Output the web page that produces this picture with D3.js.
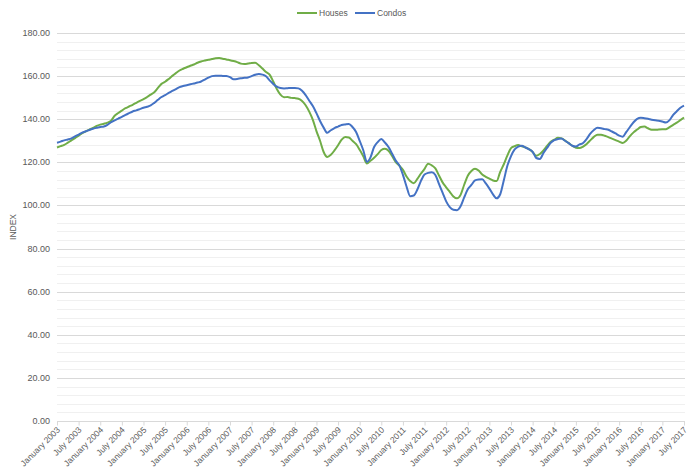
<!DOCTYPE html>
<html lang="en">
<head>
<meta charset="utf-8">
<title>Houses vs Condos index</title>
<script src="https://d3js.org/d3.v7.min.js"></script>
<style>
  body { margin: 0; background: #fff; }
  svg { font-family: "Liberation Sans", Arial, sans-serif; }
</style>
</head>
<body>
<svg width="690" height="474"></svg>
<script>
// monthly index values, January 2003 .. July 2017
const houses = [
  126.9,127.5,128.1,129.1,130.2,131.2,132.4,133.5,134.4,135.2,136.0,136.9,
  137.5,137.9,138.4,139.3,141.6,142.9,144.0,145.1,145.9,146.7,147.6,148.5,
  149.3,150.3,151.4,152.5,154.5,156.4,157.4,158.7,160.1,161.4,162.6,163.4,
  164.1,164.8,165.4,166.2,166.8,167.2,167.6,167.9,168.3,168.4,168.1,167.7,
  167.4,167.0,166.5,165.8,165.6,165.8,166.1,166.2,165.0,163.5,161.9,160.7,
  157.5,154.0,151.4,150.2,150.3,149.9,149.8,149.5,148.5,146.5,143.5,139.7,
  134.5,130.0,124.8,122.5,123.5,125.5,127.9,130.5,131.8,131.5,130.0,128.4,
  125.8,122.8,119.5,120.7,122.1,123.8,125.7,126.3,125.4,122.9,120.1,118.5,
  116.5,113.4,111.3,110.3,112.3,114.8,117.0,119.4,118.6,117.2,113.9,110.7,
  108.4,106.3,104.2,103.3,104.9,109.6,113.8,116.0,117.0,116.2,114.4,113.3,
  112.4,111.6,111.3,115.6,119.1,123.2,126.6,127.5,128.0,127.4,126.9,126.1,
  124.8,123.0,123.9,125.5,127.6,129.5,130.5,131.4,131.1,130.1,128.9,127.7,
  126.8,126.6,127.3,128.5,130.2,131.8,132.8,132.8,132.3,131.7,131.0,130.3,
  129.6,129.0,130.1,132.2,133.9,135.2,136.4,136.6,135.8,135.1,135.1,135.2,
  135.3,135.4,136.3,137.4,138.4,139.6,140.8
];
const condos = [
  129.1,129.6,130.2,130.6,131.1,132.0,132.9,133.8,134.4,135.0,135.6,136.0,
  136.4,136.6,137.4,138.6,139.5,140.3,141.1,142.0,142.8,143.6,144.1,144.7,
  145.3,145.8,146.4,147.6,149.0,150.3,151.2,152.2,153.1,154.0,154.9,155.4,
  155.8,156.2,156.6,157.0,157.5,158.4,159.3,160.0,160.2,160.2,160.1,160.0,
  159.5,158.6,158.7,159.0,159.2,159.4,160.0,160.6,161.0,160.7,159.9,158.0,
  156.4,155.1,154.5,154.3,154.4,154.5,154.5,154.3,153.2,151.2,148.6,146.1,
  142.8,139.2,136.1,133.7,134.9,135.9,136.6,137.3,137.6,137.8,136.4,134.1,
  130.0,125.6,120.2,122.3,127.1,129.4,130.8,129.2,127.1,124.0,120.8,118.6,
  114.2,108.8,104.3,104.6,107.4,111.4,114.4,115.1,115.4,114.1,110.0,105.9,
  101.9,99.2,98.0,97.8,99.6,103.7,107.5,109.5,111.6,112.0,112.1,110.2,
  107.8,105.1,103.3,105.2,111.7,118.5,122.9,126.0,127.3,127.7,126.9,126.0,
  124.9,122.0,121.6,124.3,126.7,129.0,130.3,130.8,131.0,130.0,128.9,127.7,
  127.3,128.3,129.0,130.9,133.3,135.0,136.0,135.8,135.4,135.1,134.3,133.4,
  132.4,131.9,134.1,136.4,138.6,140.2,140.7,140.5,140.2,139.8,139.5,139.3,
  138.9,138.5,139.6,142.0,143.7,145.3,146.3
];
const tickLabels = [
  "January 2003","July 2003","January 2004","July 2004","January 2005","July 2005",
  "January 2006","July 2006","January 2007","July 2007","January 2008","July 2008",
  "January 2009","July 2009","January 2010","July 2010","January 2011","July 2011",
  "January 2012","July 2012","January 2013","July 2013","January 2014","July 2014",
  "January 2015","July 2015","January 2016","July 2016","January 2017","July 2017"
];
const seriesNames = ["Houses", "Condos"];
const colors = ["#70ad47", "#4472c4"];

const svg = d3.select("svg");
const plotL = 57, plotR = 684, plotT = 33, plotB = 421;

const x = d3.scaleLinear().domain([0, houses.length - 1]).range([plotL, plotR]);
const y = d3.scaleLinear().domain([0, 180]).range([plotB, plotT]);

// minor gridlines every 4
svg.append("g").selectAll("line")
  .data(d3.range(4, 180, 4).filter(v => v % 20 !== 0))
  .enter().append("line")
  .attr("x1", plotL).attr("x2", plotR + 1)
  .attr("y1", d => Math.round(y(d)) + 0.5).attr("y2", d => Math.round(y(d)) + 0.5)
  .attr("stroke", "#f0f0f0").attr("stroke-width", 1);

// major gridlines every 20
svg.append("g").selectAll("line")
  .data(d3.range(20, 181, 20))
  .enter().append("line")
  .attr("x1", plotL).attr("x2", plotR + 1)
  .attr("y1", d => Math.round(y(d)) + 0.5).attr("y2", d => Math.round(y(d)) + 0.5)
  .attr("stroke", "#d9d9d9").attr("stroke-width", 1);

// y tick labels
svg.append("g").selectAll("text")
  .data(d3.range(0, 181, 20))
  .enter().append("text")
  .attr("x", 50).attr("y", d => y(d) + 3)
  .attr("text-anchor", "end")
  .attr("font-size", 9).attr("fill", "#595959")
  .text(d => d.toFixed(2));

// y axis title
svg.append("text")
  .attr("transform", `translate(16,${(plotT + plotB) / 2}) rotate(-90)`)
  .attr("text-anchor", "middle")
  .attr("font-size", 8.5).attr("fill", "#595959")
  .text("INDEX");

// x axis
const tickVals = tickLabels.map((d, i) => i * 6);
const xAxis = d3.axisBottom(x)
  .tickValues(tickVals)
  .tickFormat((d, i) => tickLabels[i])
  .tickSize(4)
  .tickSizeOuter(0);

const gx = svg.append("g")
  .attr("transform", `translate(0,${plotB + 0.5})`)
  .call(xAxis);
gx.select(".domain").attr("stroke", "#d9d9d9").attr("d", `M${plotL},0H${plotR + 1}`);
gx.selectAll(".tick line").attr("stroke", "#d9d9d9");
gx.selectAll(".tick text")
  .attr("font-family", "Liberation Sans, Arial, sans-serif")
  .attr("font-size", 8.5).attr("fill", "#595959")
  .attr("text-anchor", "end")
  .attr("y", 0).attr("dy", 0)
  .attr("transform", "translate(3,9) rotate(-45)");

// lines
const line = d3.line()
  .x((d, i) => x(i))
  .y(d => y(d))
  .curve(d3.curveMonotoneX);

[houses, condos].forEach((s, k) => {
  svg.append("path")
    .datum(s)
    .attr("fill", "none")
    .attr("stroke", colors[k])
    .attr("stroke-width", 2)
    .attr("stroke-linejoin", "round")
    .attr("d", line);
});

// legend
const legX = [297, 355];
seriesNames.forEach((n, k) => {
  const g = svg.append("g").attr("transform", `translate(${legX[k]},13)`);
  g.append("line").attr("x1", 0).attr("x2", 20).attr("y1", 0).attr("y2", 0)
    .attr("stroke", colors[k]).attr("stroke-width", 2);
  g.append("text").attr("x", 22).attr("y", 3)
    .attr("font-size", 8.5).attr("fill", "#595959").text(n);
});
</script>
</body>
</html>
